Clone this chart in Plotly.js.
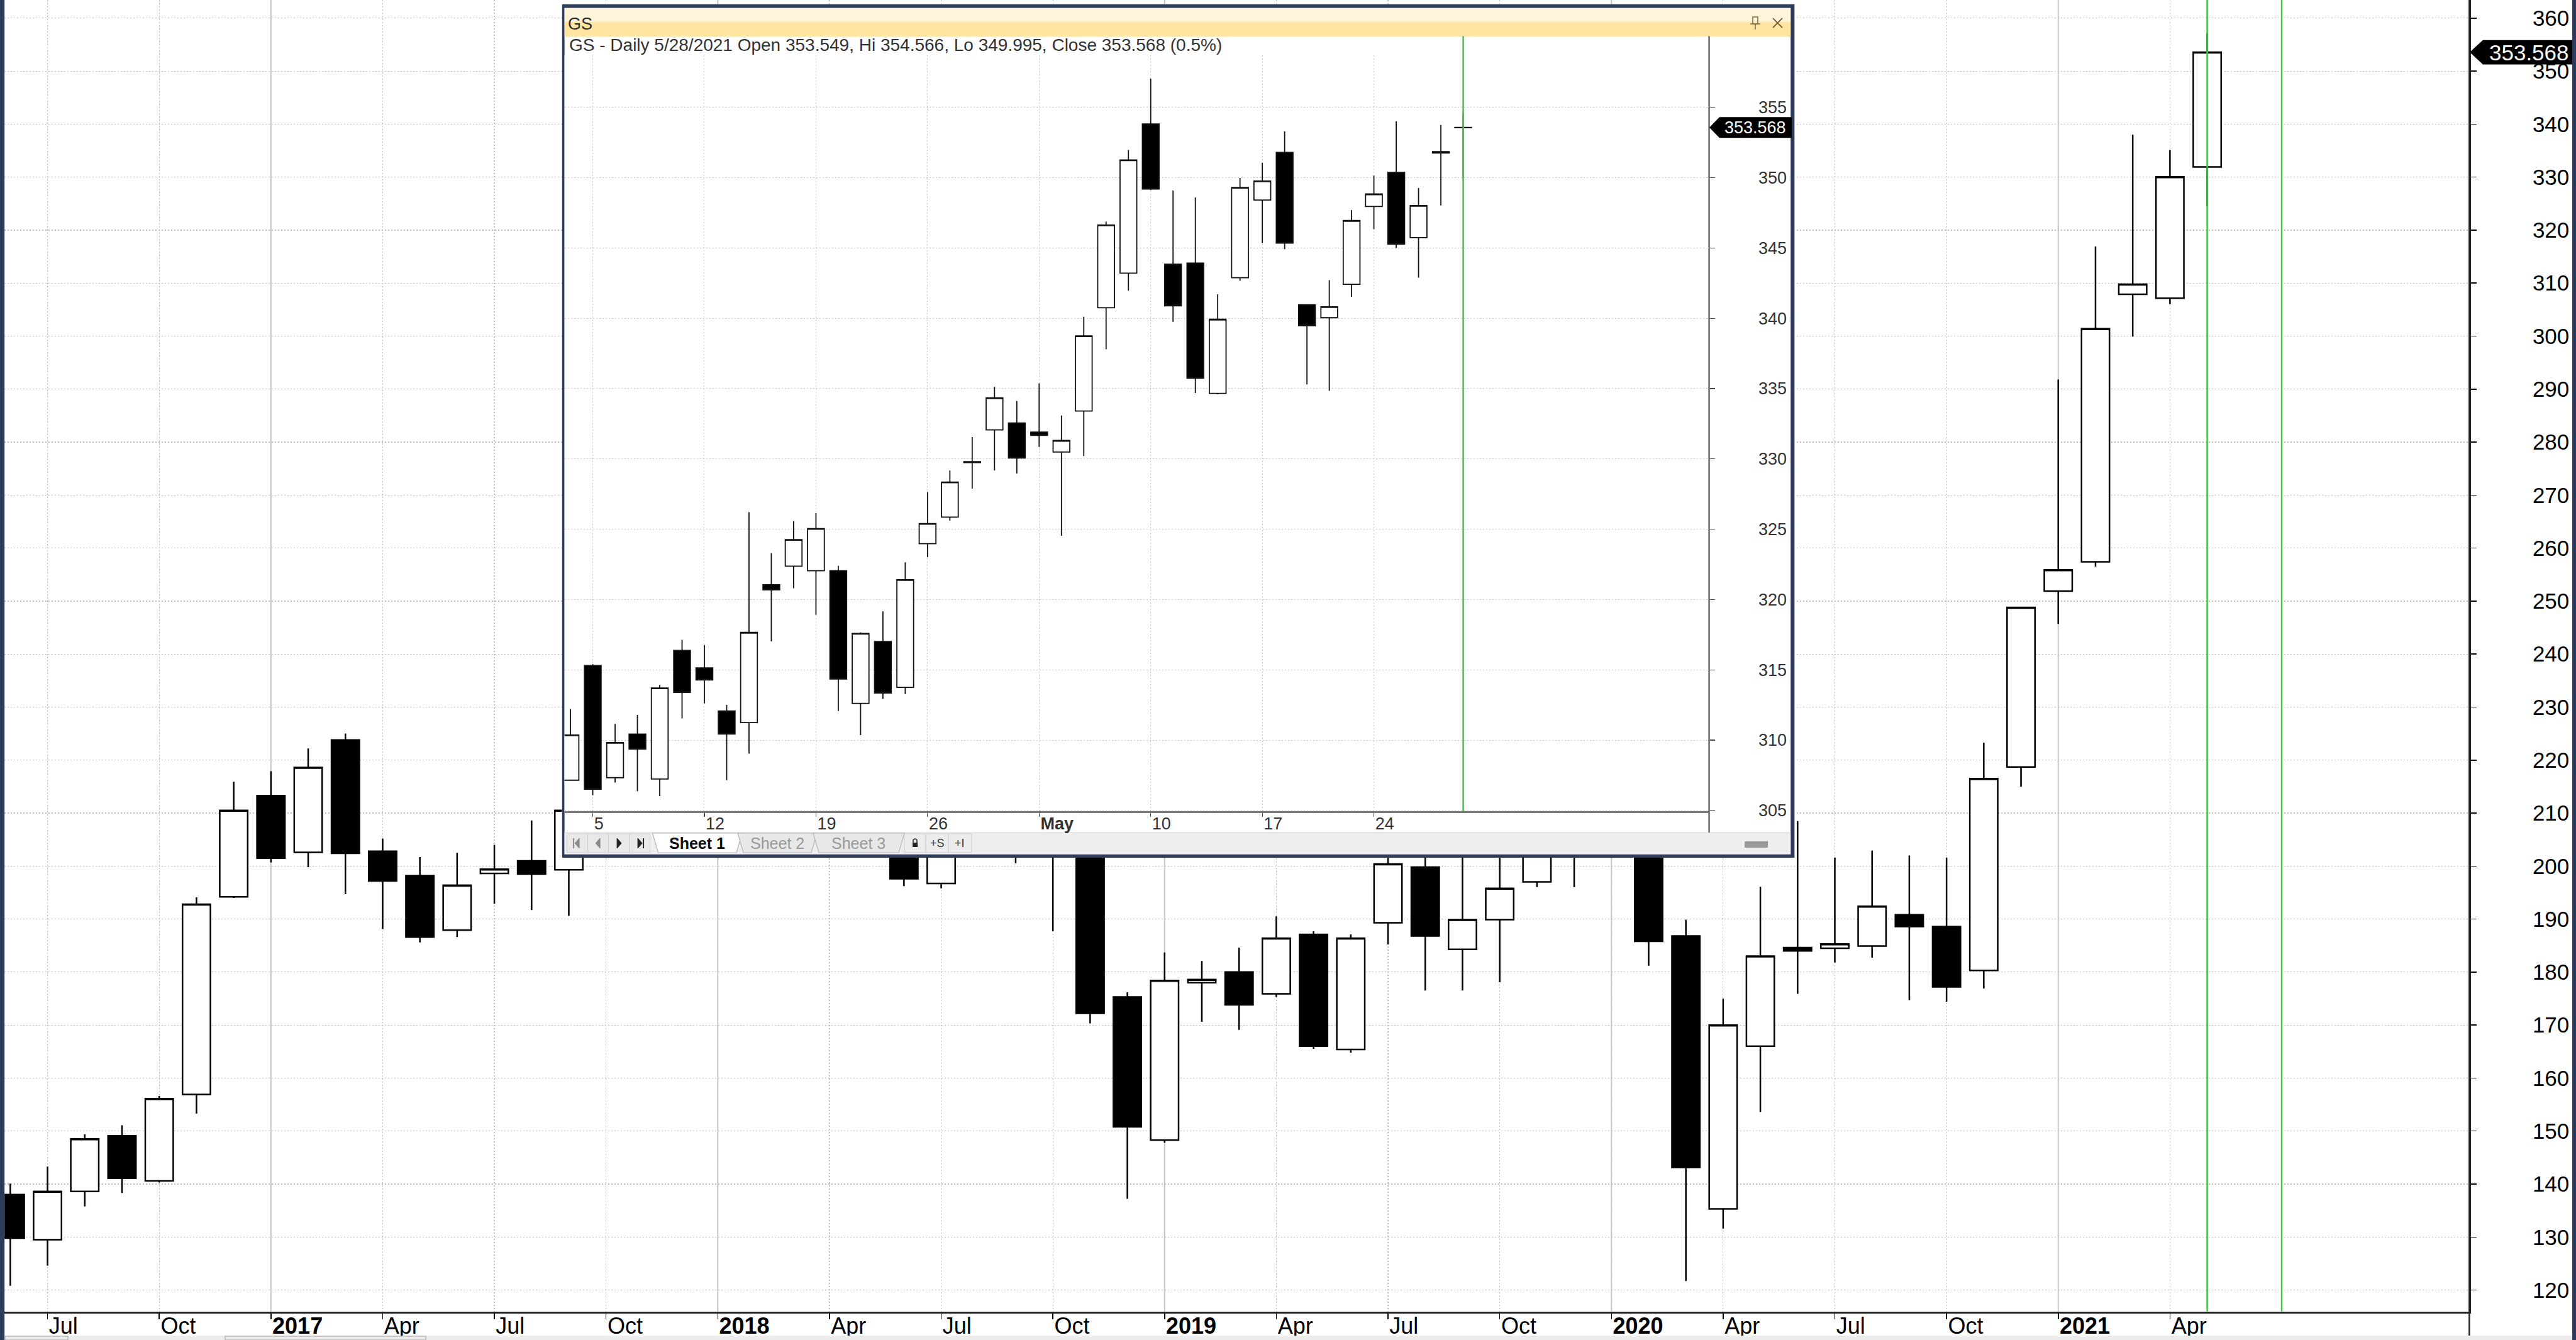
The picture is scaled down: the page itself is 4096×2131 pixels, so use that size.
<!DOCTYPE html>
<html><head><meta charset="utf-8">
<script src="https://cdn.plot.ly/plotly-3.0.1.min.js"></script>
<style>html,body{margin:0;padding:0;background:#fff;overflow:hidden}#chart{width:4096px;height:2131px}</style>
</head><body><div id="chart"></div>
<script>
// ---------- MAIN (monthly) DATA ----------
const mainMonths = [];
for (let y = 2016; y <= 2021; y++) for (let m = 1; m <= 12; m++) {
  if ((y === 2016 && m < 6) || (y === 2021 && m > 5)) continue;
  mainMonths.push(y + '-' + String(m).padStart(2, '0'));
}
const mainOpen = [138.0,129.5,138.6,149.1,140.6,156.9,194.2,213.3,202.6,223.8,202.8,198.2,187.9,198.6,201.0,199.3,
  213.7,218.7,223.0,231.0,239.0,238.0,229.0,214.0,203.0,196.7,212.0,213.0,202.0,203.0,175.3,
  148.3,178.0,180.0,175.9,187.1,165.4,189.3,199.8,184.3,189.9,197.0,213.0,214.0,221.0,186.8,
  135.3,166.0,184.6,184.5,184.9,190.8,188.6,180.3,218.7,251.9,257.4,307.9,307.15,331.91];
const mainHigh = [140.1,143.3,149.4,151.1,156.6,194.1,215.9,217.9,222.2,225.0,205.2,201.7,202.5,204.0,208.6,213.0,
  221.1,223.2,231.0,247.0,242.0,247.0,232.0,220.0,211.0,213.0,219.0,217.0,207.0,206.0,176.2,
  183.7,182.1,184.6,190.5,187.7,187.1,203.8,204.1,201.6,201.6,209.0,221.0,228.0,232.0,189.9,
  175.0,196.1,208.5,201.6,202.9,202.0,201.6,223.3,248.8,291.8,316.9,338.0,335.12,357.03];
const mainLow = [120.8,124.6,135.8,138.3,140.3,153.3,194.0,200.7,199.8,194.7,188.1,185.6,186.6,192.9,191.7,190.6,
  211.9,212.4,220.0,228.0,220.0,224.0,212.0,201.6,196.2,195.8,206.0,200.5,187.7,170.3,137.2,
  147.8,170.6,169.1,175.3,165.5,164.8,185.2,176.5,176.5,178.1,196.0,196.0,209.0,181.2,121.7,
  131.6,153.6,175.9,181.8,182.7,174.7,174.4,176.9,215.0,245.7,256.5,299.9,306.02,324.54];
const mainClose = [129.8,138.6,148.5,141.1,156.1,192.8,210.5,201.5,218.6,202.4,197.2,186.6,196.4,199.4,198.5,210.5,
  218.3,222.8,229.0,241.0,237.0,227.0,214.0,203.0,197.6,212.0,213.5,202.0,203.0,172.2,150.8,
  178.4,178.6,173.8,186.4,166.0,186.4,200.4,186.8,189.9,195.8,205.0,212.0,221.0,185.8,143.1,
  170.0,183.0,184.0,185.3,192.4,188.6,177.2,216.5,248.8,255.9,301.4,309.8,330.06,353.568];
const mainTickMonths = ["2016-07","2016-10","2017-01","2017-04","2017-07","2017-10","2018-01","2018-04","2018-07","2018-10",
  "2019-01","2019-04","2019-07","2019-10","2020-01","2020-04","2020-07","2020-10","2021-01","2021-04"];
const mainTickText = ["Jul","Oct","<b>2017</b>","Apr","Jul","Oct","<b>2018</b>","Apr","Jul","Oct",
  "<b>2019</b>","Apr","Jul","Oct","<b>2020</b>","Apr","Jul","Oct","<b>2021</b>","Apr"];
const yearMonths = ["2017-01","2018-01","2019-01","2020-01","2021-01"];
const greenMonths = ["2021-05","2021-07"];
const lastMainClose = 353.568;

// ---------- INSET (daily) DATA ----------
const dailyDates = ["2021-04-01","2021-04-05","2021-04-06","2021-04-07","2021-04-08","2021-04-09",
  "2021-04-12","2021-04-13","2021-04-14","2021-04-15","2021-04-16",
  "2021-04-19","2021-04-20","2021-04-21","2021-04-22","2021-04-23",
  "2021-04-26","2021-04-27","2021-04-28","2021-04-29","2021-04-30",
  "2021-05-03","2021-05-04","2021-05-05","2021-05-06","2021-05-07",
  "2021-05-10","2021-05-11","2021-05-12","2021-05-13","2021-05-14",
  "2021-05-17","2021-05-18","2021-05-19","2021-05-20","2021-05-21",
  "2021-05-24","2021-05-25","2021-05-26","2021-05-27","2021-05-28"];
const dailyOpen = [307.15,315.31,307.33,310.43,307.23,316.38,315.14,312.07,311.25,321.05,
  322.37,322.05,322.05,312.61,317.02,313.75,323.97,325.86,329.74,332.06,
  332.56,331.91,330.49,333.41,340.75,343.21,353.82,343.85,343.92,334.66,
  342.89,348.41,351.79,340.96,340.04,342.42,347.95,350.37,345.74,351.75,353.549];
const dailyHigh = [312.2,315.4,311.15,311.79,313.92,317.13,316.77,312.5,326.21,323.29,
  325.57,326.14,322.4,317.66,319.16,322.65,327.64,329.17,331.56,335.12,
  334.12,335.37,333.09,340.11,346.88,351.97,357.03,349.09,348.59,341.71,
  349.98,351.05,353.29,341.0,342.71,347.7,350.15,354.0,349.26,353.75,354.566];
const dailyLow = [307.1,306.09,306.98,306.37,306.02,311.54,312.61,307.15,309.04,317.02,
  320.8,318.91,312.07,310.36,312.93,313.28,323.01,325.61,327.89,329.17,
  328.96,330.85,324.54,330.2,337.79,341.96,349.12,339.75,334.69,334.6,
  342.67,345.35,344.92,335.3,334.84,341.53,346.34,344.99,342.89,348.02,349.995];
const dailyClose = [310.36,306.51,309.83,309.36,313.71,313.39,314.28,310.43,317.66,320.69,
  324.26,325.04,314.35,317.59,313.35,321.41,325.4,328.35,329.8,334.34,
  330.06,331.67,331.31,338.75,346.63,351.26,349.19,340.89,335.73,339.93,
  349.3,349.76,345.35,339.47,340.82,346.95,348.84,345.27,348.02,351.85,353.568];
const dailyTickDates = ["2021-04-05","2021-04-12","2021-04-19","2021-04-26","2021-05-03","2021-05-10","2021-05-17","2021-05-24"];
const dailyTickText = ["5","12","19","26","<b>May</b>","10","17","24"];
const insetTitle = "GS";
const insetInfo = "GS - Daily 5/28/2021 Open 353.549, Hi 354.566, Lo 349.995, Close 353.568 (0.5%)";
const sheetTabs = ["Sheet 1","Sheet 2","Sheet 3"];

// ---------- helpers ----------
const W = 4096, H = 2131;
const px = v => v / W;
const py = v => 1 - v / H;
const mIdx = s => { const [y, m] = s.split('-').map(Number); return (y - 2016) * 12 + (m - 6); };
const dIdx = s => dailyDates.indexOf(s);
const FONT = 'Liberation Sans, Arial, sans-serif';
const NAVY = '#2d3c5a', GREEN = '#3fc43f';

const mainX = mainMonths.map(mIdx);
const dailyX = dailyDates.map((d, i) => i);

const traces = [
  { type: 'candlestick', x: mainX, open: mainOpen, high: mainHigh, low: mainLow, close: mainClose,
    xaxis: 'x', yaxis: 'y', whiskerwidth: 0, hoverinfo: 'skip', showlegend: false,
    increasing: { line: { color: '#000', width: 2.5 }, fillcolor: '#ffffff' },
    decreasing: { line: { color: '#000', width: 2.5 }, fillcolor: '#000000' } },
  { type: 'scatter', x: [null], y: [null], xaxis: 'x2', yaxis: 'y2', mode: 'markers', hoverinfo: 'skip', showlegend: false },
  { type: 'candlestick', x: dailyX, open: dailyOpen, high: dailyHigh, low: dailyLow, close: dailyClose,
    xaxis: 'x3', yaxis: 'y3', whiskerwidth: 0, hoverinfo: 'skip', showlegend: false,
    increasing: { line: { color: '#111', width: 1.8 }, fillcolor: '#ffffff' },
    decreasing: { line: { color: '#111', width: 1.8 }, fillcolor: '#000000' } }
];

const shapes = [];
// year separators (main)
yearMonths.forEach(s => shapes.push({ type: 'line', xref: 'x', yref: 'paper', x0: mIdx(s), x1: mIdx(s),
  y0: py(2085.6), y1: 1, line: { color: '#c6c6c6', width: 2 }, layer: 'below' }));
// green marker lines (main)
greenMonths.forEach(s => shapes.push({ type: 'line', xref: 'x', yref: 'paper', x0: mIdx(s), x1: mIdx(s),
  y0: py(2085.6), y1: 1, line: { color: GREEN, width: 2.5 }, layer: 'above' }));
// window borders
shapes.push({ type: 'rect', xref: 'paper', yref: 'paper', x0: 0, x1: px(7.2), y0: 0, y1: 1, fillcolor: NAVY, line: { width: 0 }, layer: 'above' });
shapes.push({ type: 'rect', xref: 'paper', yref: 'paper', x0: px(4090), x1: 1, y0: 0, y1: 1, fillcolor: NAVY, line: { width: 0 }, layer: 'above' });
shapes.push({ type: 'rect', xref: 'paper', yref: 'paper', x0: px(7.2), x1: px(4090), y0: 0, y1: py(2124), fillcolor: '#ececec', line: { width: 0 }, layer: 'above' });
shapes.push({ type: 'rect', xref: 'paper', yref: 'paper', x0: px(8), x1: px(108), y0: 0, y1: py(2125), fillcolor: 'rgba(0,0,0,0)', line: { color: '#b8b8b8', width: 1.5 }, layer: 'above' });
shapes.push({ type: 'rect', xref: 'paper', yref: 'paper', x0: px(358), x1: px(677), y0: 0, y1: py(2125), fillcolor: 'rgba(0,0,0,0)', line: { color: '#b8b8b8', width: 1.5 }, layer: 'above' });
// main y axis line extended
shapes.push({ type: 'line', xref: 'paper', yref: 'paper', x0: px(3926.4), x1: px(3926.4), y0: py(2124), y1: 1, line: { color: '#222', width: 2.5 }, layer: 'above' });
// main price marker
shapes.push({ type: 'path', xref: 'paper', yref: 'y', xsizemode: 'pixel', ysizemode: 'pixel',
  xanchor: px(3927), yanchor: lastMainClose, path: 'M0,0 L21,19.4 L163,19.4 L163,-19.4 L21,-19.4 Z',
  fillcolor: '#000', line: { width: 0 }, layer: 'above' });

// ---------- inset window frame (on x2/y2, page-pixel units) ----------
const F = (o) => Object.assign({ xref: 'x2', yref: 'y2', layer: 'below' }, o);
shapes.push(F({ type: 'rect', x0: 893.6, x1: 2853.6, y0: 6.4, y1: 1364, fillcolor: NAVY, line: { width: 0 } }));
shapes.push(F({ type: 'rect', x0: 897.6, x1: 2847.2, y0: 12.8, y1: 1358.4, fillcolor: '#ffffff', line: { width: 0 } }));
shapes.push(F({ type: 'rect', x0: 897.6, x1: 2847.2, y0: 12.8, y1: 34.4, fillcolor: '#fff4da', line: { width: 0 } }));
shapes.push(F({ type: 'rect', x0: 897.6, x1: 2847.2, y0: 34.4, y1: 58.4, fillcolor: '#ffe5a0', line: { width: 0 } }));
// pin icon
shapes.push(F({ type: 'rect', x0: 2787, x1: 2795, y0: 27, y1: 38, fillcolor: 'rgba(0,0,0,0)', line: { color: '#7a6a45', width: 1.5 } }));
shapes.push(F({ type: 'line', x0: 2783, x1: 2799, y0: 38, y1: 38, line: { color: '#7a6a45', width: 1.5 } }));
shapes.push(F({ type: 'line', x0: 2791, x1: 2791, y0: 38, y1: 47, line: { color: '#7a6a45', width: 1.5 } }));
// close icon
shapes.push(F({ type: 'line', x0: 2819, x1: 2834, y0: 29, y1: 44, line: { color: '#7a6a45', width: 2 } }));
shapes.push(F({ type: 'line', x0: 2819, x1: 2834, y0: 44, y1: 29, line: { color: '#7a6a45', width: 2 } }));
// tab bar
shapes.push(F({ type: 'rect', x0: 897.6, x1: 2847.2, y0: 1324, y1: 1358.4, fillcolor: '#eeeeee', line: { width: 0 } }));
shapes.push(F({ type: 'line', x0: 897.6, x1: 2847.2, y0: 1324, y1: 1324, line: { color: '#d4d4d4', width: 1 } }));
// nav buttons
[901.6, 934.6, 967.6, 1000.6].forEach((x0, i) => {
  shapes.push(F({ type: 'rect', x0: x0, x1: x0 + 33, y0: 1326, y1: 1356, fillcolor: '#e9e9e9', line: { color: '#cfcfcf', width: 1 } }));
  const c = x0 + 16.5, col = i < 2 ? '#8a8a8a' : '#222';
  const left = i < 2;
  const tri = left ? `M${c + 3},1333 L${c - 4},1341 L${c + 3},1349 Z` : `M${c - 3},1333 L${c + 4},1341 L${c - 3},1349 Z`;
  shapes.push(F({ type: 'path', path: tri, fillcolor: col, line: { color: col, width: 1 } }));
  if (i === 0) shapes.push(F({ type: 'line', x0: c - 6, x1: c - 6, y0: 1333, y1: 1349, line: { color: col, width: 2 } }));
  if (i === 3) shapes.push(F({ type: 'line', x0: c + 6, x1: c + 6, y0: 1333, y1: 1349, line: { color: col, width: 2 } }));
});
// sheet tabs
[[1037.6, 1180, '#ffffff'], [1173, 1299, '#e8e8e8'], [1293, 1438, '#e8e8e8']].forEach(([a, b, fc]) => {
  shapes.push(F({ type: 'path', path: `M${a},1325 L${a + 9},1356 L${b - 9},1356 L${b},1325 Z`, fillcolor: fc, line: { color: '#b5b5b5', width: 1.2 } }));
});
[[1438, 1472], [1472, 1508], [1508, 1545]].forEach(([a, b]) => {
  shapes.push(F({ type: 'rect', x0: a, x1: b, y0: 1326, y1: 1356, fillcolor: '#ececec', line: { color: '#cfcfcf', width: 1 } }));
});
shapes.push(F({ type: 'rect', x0: 1451, x1: 1459, y0: 1340, y1: 1347, fillcolor: '#222', line: { width: 0 } }));
shapes.push(F({ type: 'path', path: 'M1452,1340 L1452,1336 Q1455,1332 1458,1336 L1458,1340', fillcolor: 'rgba(0,0,0,0)', line: { color: '#222', width: 1.5 } }));
// scroll thumb
shapes.push(F({ type: 'rect', x0: 2774, x1: 2811, y0: 1338, y1: 1348, fillcolor: '#9a9a9a', line: { width: 0 } }));

// inset overlays
shapes.push({ type: 'line', xref: 'x3', yref: 'paper', x0: dailyX[dailyX.length - 1], x1: dailyX[dailyX.length - 1],
  y0: py(1290.4), y1: py(57.6), line: { color: GREEN, width: 2.5 }, layer: 'above' });
shapes.push({ type: 'line', xref: 'paper', yref: 'paper', x0: px(2717.6), x1: px(2717.6), y0: py(1324), y1: py(57.6),
  line: { color: '#6a6a6a', width: 2.5 }, layer: 'above' });
shapes.push({ type: 'path', xref: 'paper', yref: 'y3', xsizemode: 'pixel', ysizemode: 'pixel',
  xanchor: px(2718), yanchor: dailyClose[dailyClose.length - 1], path: 'M0,0 L16,16.4 L131,16.4 L131,-16.4 L16,-16.4 Z',
  fillcolor: '#000', line: { width: 0 }, layer: 'above' });

const annotations = [
  { xref: 'paper', yref: 'paper', x: px(900.8), y: py(37.6), xanchor: 'left', yanchor: 'middle', showarrow: false,
    text: insetTitle, font: { family: FONT, size: 27, color: '#2a2a2a' } },
  { xref: 'paper', yref: 'paper', x: px(902.5), y: py(72), xanchor: 'left', yanchor: 'middle', showarrow: false,
    text: insetInfo, font: { family: FONT, size: 28, color: '#333' } },
  { xref: 'paper', yref: 'y', x: px(4087), y: lastMainClose, xanchor: 'right', yanchor: 'middle', showarrow: false,
    text: lastMainClose.toFixed(3), font: { family: FONT, size: 35, color: '#fff' } },
  { xref: 'paper', yref: 'y3', x: px(2842), y: dailyClose[dailyClose.length - 1], xanchor: 'right', yanchor: 'middle', showarrow: false,
    text: dailyClose[dailyClose.length - 1].toFixed(3), font: { family: FONT, size: 27, color: '#fff' } },
  { xref: 'paper', yref: 'paper', x: px(1108), y: py(1341), xanchor: 'center', yanchor: 'middle', showarrow: false,
    text: '<b>' + sheetTabs[0] + '</b>', font: { family: FONT, size: 25, color: '#111' } },
  { xref: 'paper', yref: 'paper', x: px(1236), y: py(1341), xanchor: 'center', yanchor: 'middle', showarrow: false,
    text: sheetTabs[1], font: { family: FONT, size: 25, color: '#9a9a9a' } },
  { xref: 'paper', yref: 'paper', x: px(1365), y: py(1341), xanchor: 'center', yanchor: 'middle', showarrow: false,
    text: sheetTabs[2], font: { family: FONT, size: 25, color: '#9a9a9a' } },
  { xref: 'paper', yref: 'paper', x: px(1490), y: py(1341), xanchor: 'center', yanchor: 'middle', showarrow: false,
    text: '+S', font: { family: FONT, size: 18, color: '#333' } },
  { xref: 'paper', yref: 'paper', x: px(1526), y: py(1341), xanchor: 'center', yanchor: 'middle', showarrow: false,
    text: '+I', font: { family: FONT, size: 18, color: '#333' } }
];

const gridDash = '2px,3px';
const layout = {
  width: W, height: H, margin: { l: 0, r: 0, t: 0, b: 0 },
  paper_bgcolor: '#ffffff', plot_bgcolor: '#ffffff', showlegend: false, hovermode: false, dragmode: false,
  boxgap: 0.25, boxgroupgap: 0,
  xaxis: { domain: [px(7.2), px(3926.4)], range: [-0.155, mIdx('2021-12') + 0.04], anchor: 'y',
    tickvals: mainTickMonths.map(mIdx), ticktext: mainTickText, ticks: 'outside', ticklen: 9, tickwidth: 1.5, tickcolor: '#000',
    ticklabelposition: 'outside right', ticklabelstandoff: -11, tickfont: { family: FONT, size: 36, color: '#000' },
    showgrid: true, gridcolor: '#bdbdbd', gridwidth: 1.2, griddash: gridDash, zeroline: false,
    showline: true, linecolor: '#222', linewidth: 3, rangeslider: { visible: false }, fixedrange: true },
  yaxis: { domain: [py(2085.6), 1], range: [115.96, 363.42], anchor: 'x', side: 'right',
    tick0: 0, dtick: 10, ticks: 'outside', ticklen: 9, tickwidth: 1.5, tickcolor: '#000',
    tickfont: { family: FONT, size: 35, color: '#000' }, ticklabelstandoff: 82,
    showgrid: true, gridcolor: '#bdbdbd', gridwidth: 1.2, griddash: gridDash, zeroline: false,
    showline: true, linecolor: '#222', linewidth: 2.5, fixedrange: true },
  xaxis2: { domain: [px(893.6), px(2853.6)], range: [893.6, 2853.6], anchor: 'y2',
    showgrid: false, zeroline: false, showticklabels: false, ticks: '', showline: false, fixedrange: true },
  yaxis2: { domain: [py(1364), py(6.4)], range: [1364, 6.4], anchor: 'x2',
    showgrid: false, zeroline: false, showticklabels: false, ticks: '', showline: false, fixedrange: true },
  xaxis3: { domain: [px(897.6), px(2717.6)], range: [-0.267, 51.02], anchor: 'y3',
    tickvals: dailyTickDates.map(dIdx), ticktext: dailyTickText, ticks: 'outside', ticklen: 6, tickwidth: 1.2, tickcolor: '#444',
    ticklabelposition: 'outside right', ticklabelstandoff: -7, tickfont: { family: FONT, size: 27, color: '#333' },
    showgrid: true, gridcolor: '#c4c4c4', gridwidth: 1, griddash: gridDash, zeroline: false,
    showline: true, linecolor: '#7a7a7a', linewidth: 3, rangeslider: { visible: false }, fixedrange: true },
  yaxis3: { domain: [py(1290.4), py(88)], range: [304.93, 358.70], anchor: 'x3', side: 'right',
    tick0: 0, dtick: 5, ticks: 'outside', ticklen: 8, tickwidth: 1.2, tickcolor: '#444',
    tickfont: { family: FONT, size: 27, color: '#333' }, ticklabelstandoff: 64,
    showgrid: true, gridcolor: '#c4c4c4', gridwidth: 1, griddash: gridDash, zeroline: false,
    showline: false, fixedrange: true },
  shapes: shapes, annotations: annotations
};

Plotly.newPlot('chart', traces, layout, { staticPlot: true, displayModeBar: false });
</script></body></html>
